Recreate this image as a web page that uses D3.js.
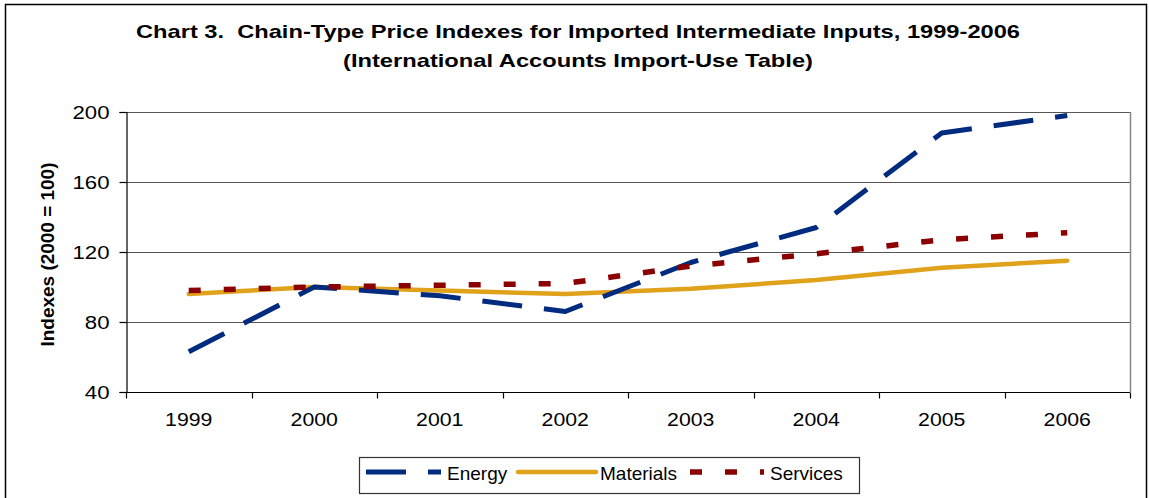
<!DOCTYPE html>
<html>
<head>
<meta charset="utf-8">
<script src="https://cdn.jsdelivr.net/npm/d3@7"></script>
<style>
  html, body { margin: 0; padding: 0; background: #fff; }
  svg { display: block; font-family: "Liberation Sans", Arial, sans-serif; }
</style>
</head>
<body>
<svg id="chart" width="1149" height="498"></svg>
<script>
// Chain-type price indexes, 2000 = 100
const years = ["1999", "2000", "2001", "2002", "2003", "2004", "2005", "2006"];
const energy = [63, 100, 95, 86, 114, 134, 188, 198];
const materials = [96, 100, 98, 96, 99, 104, 111, 115];
const services = [98, 100, 101, 102, 112, 119, 127, 131];
const yTicks = [40, 80, 120, 160, 200];
const seriesNames = ["Energy", "Materials", "Services"];

const titleLines = [
  "Chart 3.\u00a0 Chain-Type Price Indexes for Imported Intermediate Inputs, 1999-2006",
  "(International Accounts Import-Use Table)"
];
const yTitle = "Indexes (2000 = 100)";

const styles = {
  Energy:    { color: "#002B7F", width: 5,   dash: "40,22", cap: "butt" },
  Materials: { color: "#E0A11B", width: 4.5, dash: null,    cap: "round" },
  Services:  { color: "#8B0000", width: 5.5, dash: "12,23", cap: "butt" }
};
const seriesData = { Energy: energy, Materials: materials, Services: services };

const svg = d3.select("#chart");
const plot = { left: 126, right: 1130, top: 112, bottom: 392 };

// outer frame
svg.append("rect")
  .attr("x", 5.5).attr("y", 4.5)
  .attr("width", 1141).attr("height", 500)
  .attr("fill", "#fff").attr("stroke", "#000").attr("stroke-width", 1.5);

// title (glyphs are drawn wide, so each line is stretched to its set width)
const titleWidths = [884, 470];
const title = svg.append("g").attr("font-weight", "bold").attr("font-size", 19)
  .attr("text-anchor", "middle").attr("fill", "#000");
title.selectAll("text").data(titleLines).join("text")
  .attr("x", 578)
  .attr("y", (d, i) => 38 + i * 28.5)
  .attr("textLength", (d, i) => titleWidths[i])
  .attr("lengthAdjust", "spacingAndGlyphs")
  .text(d => d);

const x = d3.scaleBand().domain(years).range([plot.left, plot.right]).padding(0);
const y = d3.scaleLinear().domain([40, 200]).range([plot.bottom, plot.top]);

// gridlines
svg.append("g").selectAll("line")
  .data(yTicks.filter(t => t > 40)).join("line")
  .attr("x1", plot.left).attr("x2", plot.right)
  .attr("y1", d => Math.round(y(d)) + 0.5).attr("y2", d => Math.round(y(d)) + 0.5)
  .attr("stroke", "#555").attr("stroke-width", 1.2);

// right border of plot area
svg.append("line")
  .attr("x1", plot.right + 0.5).attr("x2", plot.right + 0.5)
  .attr("y1", plot.top).attr("y2", plot.bottom)
  .attr("stroke", "#888").attr("stroke-width", 1.5);

// y axis
const yAxis = d3.axisLeft(y).tickValues(yTicks).tickSize(7).tickPadding(8);
const yg = svg.append("g").attr("transform", `translate(${plot.left + 0.5},0)`).call(yAxis);
yg.select(".domain").attr("stroke", "#000").attr("stroke-width", 1.2);
yg.selectAll(".tick line").attr("stroke", "#000").attr("stroke-width", 1.2);
yg.selectAll(".tick text")
  .attr("x", null).attr("dy", null)
  .attr("transform", "translate(-17,6.5) scale(1.2,1)")
  .attr("font-size", 18.5).attr("fill", "#000")
  .attr("font-family", "Liberation Sans, Arial, sans-serif");

// x axis: ticks at category boundaries
const xg = svg.append("g").attr("transform", `translate(0,${plot.bottom + 0.5})`);
xg.append("line").attr("x1", plot.left).attr("x2", plot.right)
  .attr("stroke", "#000").attr("stroke-width", 1.2);
const bounds = years.map(d => x(d)).concat([plot.right]);
xg.selectAll("line.tk").data(bounds).join("line").attr("class", "tk")
  .attr("x1", d => Math.round(d) + 0.5).attr("x2", d => Math.round(d) + 0.5)
  .attr("y1", 0).attr("y2", 6)
  .attr("stroke", "#000").attr("stroke-width", 1.2);
xg.selectAll("text").data(years).join("text")
  .attr("transform", d => `translate(${x(d) + x.bandwidth() / 2},33) scale(1.15,1)`)
  .attr("text-anchor", "middle").attr("font-size", 18.5).attr("fill", "#000")
  .text(d => d);

// y axis title
svg.append("text")
  .attr("transform", "translate(54,254.5) rotate(-90)")
  .attr("text-anchor", "middle").attr("font-weight", "bold").attr("font-size", 18)
  .attr("textLength", 184).attr("lengthAdjust", "spacingAndGlyphs")
  .attr("fill", "#000")
  .text(yTitle);

// series lines
const line = d3.line()
  .x((d, i) => x(years[i]) + x.bandwidth() / 2)
  .y(d => y(d));

const drawOrder = ["Materials", "Energy", "Services"];
drawOrder.forEach(name => {
  const s = styles[name];
  svg.append("path")
    .datum(seriesData[name])
    .attr("d", line)
    .attr("fill", "none")
    .attr("stroke", s.color)
    .attr("stroke-width", s.width)
    .attr("stroke-linecap", s.cap)
    .attr("stroke-linejoin", "round")
    .attr("stroke-dasharray", s.dash);
});

// legend
const legend = svg.append("g");
legend.append("rect")
  .attr("x", 359.5).attr("y", 457.5).attr("width", 500).attr("height", 36)
  .attr("fill", "#fff").attr("stroke", "#333").attr("stroke-width", 1.2);

const legendItems = [
  { name: "Energy", x0: 366, x1: 441, tx: 447 },
  { name: "Materials", x0: 518, x1: 596, tx: 600 },
  { name: "Services", x0: 690, x1: 764, tx: 770 }
];
legendItems.forEach(it => {
  const s = styles[it.name];
  legend.append("line")
    .attr("x1", it.x0).attr("x2", it.x1).attr("y1", 472).attr("y2", 472)
    .attr("stroke", s.color).attr("stroke-width", s.width)
    .attr("stroke-linecap", s.cap)
    .attr("stroke-dasharray", s.dash);
  legend.append("text")
    .attr("x", it.tx).attr("y", 480)
    .attr("font-size", 19).attr("fill", "#000")
    .text(it.name);
});
</script>
</body>
</html>
